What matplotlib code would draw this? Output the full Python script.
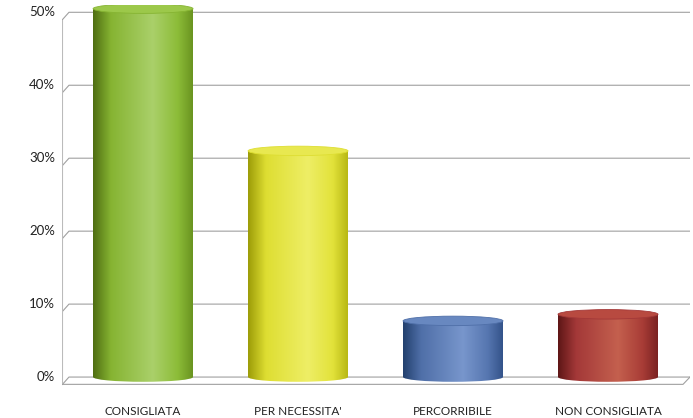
import numpy as np
import matplotlib.pyplot as plt
from matplotlib.patches import Rectangle, Ellipse
from matplotlib.colors import LinearSegmentedColormap

plt.rcParams['font.family'] = ['Lato', 'DejaVu Sans']

categories = ['CONSIGLIATA', "PER NECESSITA'", 'PERCORRIBILE', 'NON CONSIGLIATA']
values = [50.5, 31.0, 7.7, 8.6]
ticks = [0, 10, 20, 30, 40, 50]
tick_labels = ['0%', '10%', '20%', '30%', '40%', '50%']

# dark edge, mid, highlight, mid, dark edge
shades = [
    ['#4f6e12', '#86b432', '#aad06a', '#8cbc38', '#6a9420'],
    ['#9c9c08', '#dede32', '#eeee66', '#e2e23a', '#b8b814'],
    ['#23406e', '#4f6fa8', '#7896cc', '#5676b0', '#34538a'],
    ['#5e1616', '#a33838', '#c4604e', '#a83c36', '#7a2222'],
]
tops = ['#9cc84a', '#e8e850', '#6888c0', '#b84a40']

fig = plt.figure(figsize=(6.93, 4.18), dpi=100)
ax = fig.add_axes([62 / 693, 30 / 418, 628 / 693, 383 / 418])
x0, x1 = -0.523, 3.529
ax.axis('off')

x = np.arange(len(categories))
width = 0.645
eh = 1.3
sl_x, sl_y = 0.045, 1.0
gcol = '#a0a0a0'

# walls and gridlines
for t in ticks:
    ax.plot([x0 + 0.003, x0 + sl_x, x1], [t - sl_y, t, t], color=gcol, lw=0.8, zorder=1)
ax.plot([x0 + 0.003, x0 + 0.003], [-sl_y, 50 - sl_y], color='#bbbbbb', lw=0.8, zorder=1)
ax.plot([x0 + 0.003, x1 - sl_x, x1], [-sl_y, -sl_y, 0], color=gcol, lw=0.8, zorder=1)

for i, (xi, v) in enumerate(zip(x, values)):
    cmap = LinearSegmentedColormap.from_list('c%d' % i, list(zip([0, 0.18, 0.6, 0.85, 1], shades[i])))
    grad = np.linspace(0, 1, 256)[None, :]
    left = xi - width / 2
    body = Rectangle((left, 0), width, v, facecolor='none', edgecolor='none')
    bottom = Ellipse((xi, 0), width, eh, facecolor='none', edgecolor='none')
    ax.add_patch(body)
    ax.add_patch(bottom)
    for clip in (body, bottom):
        im = ax.imshow(grad, cmap=cmap, aspect='auto', extent=[left, left + width, -eh, v],
                       zorder=2, interpolation='bicubic')
        im.set_clip_path(clip)
    cap = Ellipse((xi, v), width, eh, facecolor=tops[i], edgecolor=shades[i][1], lw=0.6, zorder=3)
    ax.add_patch(cap)
    ax.text(xi, -3.9, categories[i], ha='center', va='top', fontsize=8.5, color='#222222')

ax.set_xlim(x0, x1)
ax.set_ylim(-1.5, 51)

for t, lab in zip(ticks, tick_labels):
    ax.text(x0 - 0.045, t, lab, ha='right', va='center', fontsize=9.5, color='#222222')

plt.savefig('out.png', dpi=100)
